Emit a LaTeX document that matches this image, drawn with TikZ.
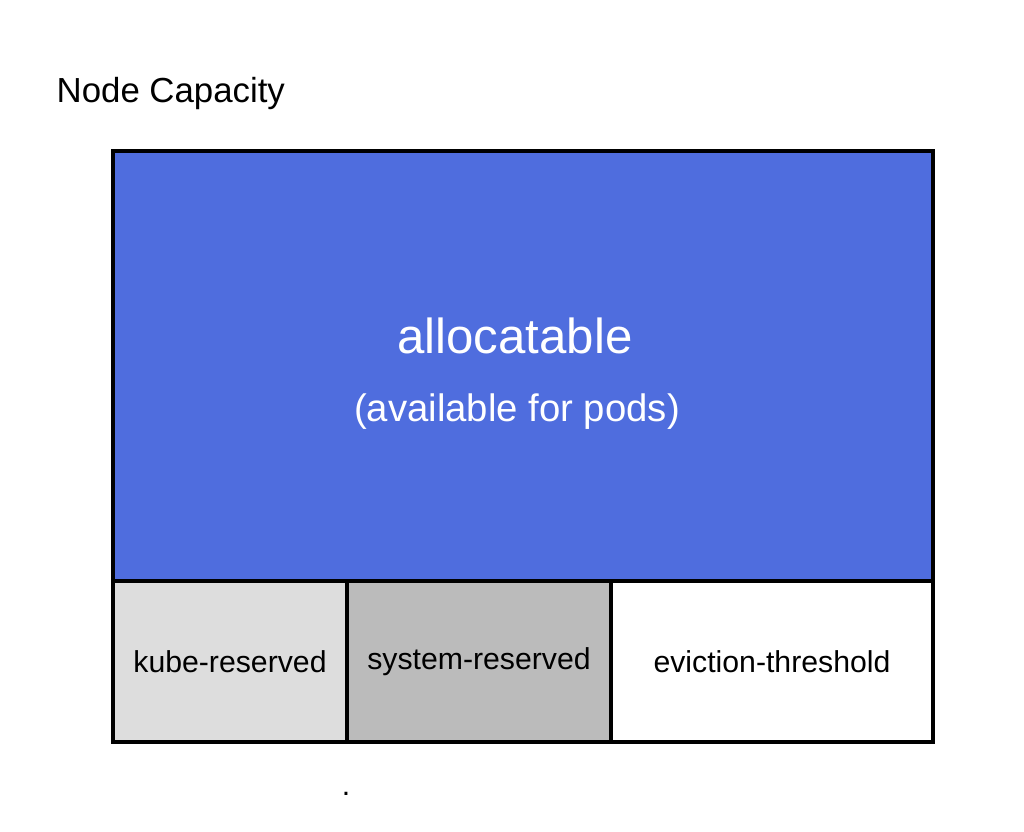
\documentclass[tikz,border=0pt]{standalone}
\usepackage{fontspec}
\setmainfont{Liberation Sans}
\usepackage{tikz}
\definecolor{allocblue}{HTML}{4F6DDE}
\definecolor{kubegray}{HTML}{DDDDDD}
\definecolor{sysgray}{HTML}{BBBBBB}
\tikzset{
  part/.style={draw=black, line width=0.9pt, rectangle, inner sep=0pt, outer sep=0pt},
  rowlabel/.style={font=\fontsize{8.6}{10}\selectfont, text=black}
}

\begin{document}
\begin{tikzpicture}
			%%%%% START %%%%%
			\useasboundingbox (0, 0) rectangle (10.24, 8.32);
			
			\node[anchor=west, inner sep=0pt, font=\fontsize{9.9}{12}\selectfont] (title) at (0.56, 7.38) {Node Capacity};
			
			\node[part, fill=allocblue, minimum width=8.20cm, minimum height=4.30cm] (alloc) at (5.23, 4.66) {};
			\node[font=\fontsize{14}{16}\selectfont, text=white] (allocname) at (5.15, 4.96) {allocatable};
			\node[font=\fontsize{10.9}{13}\selectfont, text=white] (allocnote) at (5.17, 4.20) {(available for pods)};
			
			\node[part, fill=kubegray, minimum width=2.34cm, minimum height=1.61cm, rowlabel] (kube) at (2.30, 1.705) {kube-reserved};
			\node[part, fill=sysgray, minimum width=2.64cm, minimum height=1.61cm, rowlabel] (sys) at (4.79, 1.705) {system-reserved};
			\node[part, fill=white, minimum width=3.22cm, minimum height=1.61cm, rowlabel] (evict) at (7.72, 1.705) {eviction-threshold};
			
			\node[rowlabel, anchor=base, inner sep=0pt] (dot) at (3.46, 0.36) {.};
			%%%%% END %%%%%
		\end{tikzpicture}
\end{document}
